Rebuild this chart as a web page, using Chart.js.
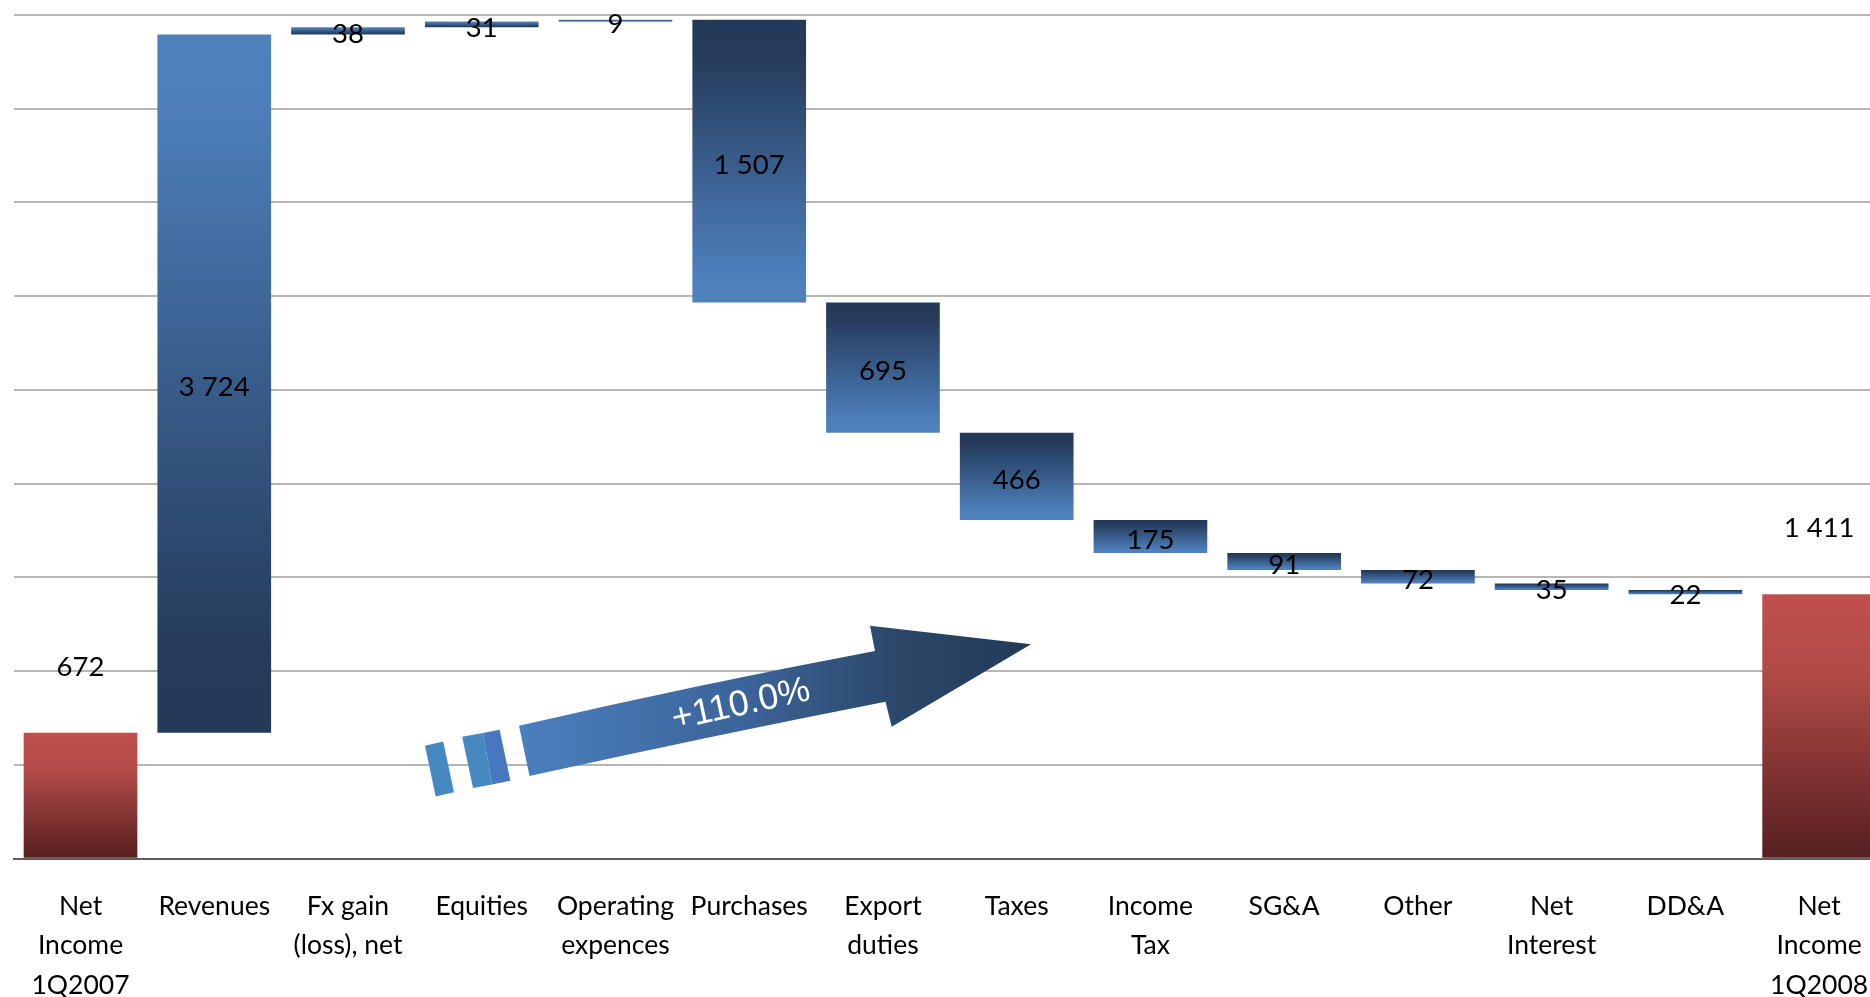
<!DOCTYPE html>
<html><head><meta charset="utf-8">
<script src="https://cdn.jsdelivr.net/npm/chart.js@4.4.1/dist/chart.umd.min.js"></script>
<style>
html,body{margin:0;padding:0;background:#fff;overflow:hidden;width:1870px;height:997px}
#wrap{position:absolute;left:0;top:0;width:1886px;height:997px}
</style>
</head><body>
<div id="wrap"><canvas id="c" width="1886" height="997"></canvas></div>
<script>
// ---- data ----
const categories = [["Net","Income","1Q2007"],"Revenues",["Fx gain","(loss), net"],"Equities",["Operating","expences"],"Purchases",["Export","duties"],"Taxes",["Income","Tax"],"SG&A","Other",["Net","Interest"],"DD&A",["Net","Income","1Q2008"]];
const changes = [672, 3724, 38, 31, 9, -1507, -695, -466, -175, -91, -72, -35, -22, 1411];
const totalFlags = [true,false,false,false,false,false,false,false,false,false,false,false,false,true];
const yMax = 4500;
const yStep = 500;
const growthLabel = "+110.0%";

// ---- build floating ranges [start, end] ----
const ranges = [];
let run = 0;
changes.forEach((v, i) => {
  if (totalFlags[i]) { ranges.push([0, v]); run = v; }
  else { ranges.push([run, run + v]); run += v; }
});
const fmt = n => String(Math.abs(n)).replace(/\B(?=(\d{3})+(?!\d))/g, ' ');

function barFill(ctx) {
  const chart = ctx.chart;
  const ys = chart.scales && chart.scales.y;
  if (ctx.type !== 'data' || !ys || !chart.chartArea) return '#4f81bd';
  const i = ctx.dataIndex;
  const [s, e] = ranges[i];
  const y0 = ys.getPixelForValue(s), y1 = ys.getPixelForValue(e);
  if (Math.abs(y1 - y0) < 0.5) return '#3a5f8e';
  const g = chart.ctx.createLinearGradient(0, y0, 0, y1);
  if (totalFlags[i]) {
    g.addColorStop(0, '#561f20');
    g.addColorStop(0.7, '#b24a47');
    g.addColorStop(1, '#c0504d');
  } else {
    g.addColorStop(0, '#243a59');
    g.addColorStop(0.12, '#253b5b');
    g.addColorStop(0.9, '#4d7fbb');
    g.addColorStop(1, '#4f81bd');
  }
  return g;
}

const decoPlugin = {
  id: 'deco',
  afterDatasetsDraw(chart) {
    const c = chart.ctx;
    const meta = chart.getDatasetMeta(0);
    // value labels
    c.save();
    c.fillStyle = '#000';
    c.font = '27.5px Lato';
    c.textAlign = 'center';
    c.textBaseline = 'middle';
    meta.data.forEach((bar, i) => {
      const top = Math.min(bar.y, bar.base), bot = Math.max(bar.y, bar.base);
      let y = (top + bot) / 2 + 3.5;
      if (totalFlags[i]) y = top - 66;
      c.fillText(fmt(changes[i]), bar.x, y);
    });
    c.restore();

    // growth arrow (decoration)
    c.save();
    const g = c.createLinearGradient(519, 0, 1031, 0);
    g.addColorStop(0, '#4a80be');
    g.addColorStop(0.45, '#3b6398');
    g.addColorStop(0.75, '#2b4668');
    g.addColorStop(1, '#243a58');
    c.fillStyle = g;
    c.beginPath();
    c.moveTo(519, 725.7);
    c.quadraticCurveTo(700, 684, 875, 651);
    c.lineTo(870, 625.7);
    c.lineTo(1031, 644.3);
    c.lineTo(891.7, 726.7);
    c.lineTo(885.5, 701.7);
    c.quadraticCurveTo(710, 736, 529.5, 776);
    c.closePath();
    c.fill();
    // stripes
    c.fillStyle = '#4589c0';
    c.beginPath();
    c.moveTo(425, 745.7); c.lineTo(443.2, 741.5); c.lineTo(454, 792.3); c.lineTo(435.7, 796.5);
    c.closePath(); c.fill();
    c.beginPath();
    c.moveTo(462.2, 736.7); c.lineTo(483, 733); c.lineTo(492, 784.5); c.lineTo(473, 788);
    c.closePath(); c.fill();
    c.fillStyle = '#4677bf';
    c.beginPath();
    c.moveTo(483, 733); c.lineTo(499.6, 729.8); c.lineTo(510.4, 780.7); c.lineTo(492, 784.5);
    c.closePath(); c.fill();
    // text
    c.translate(741, 705);
    c.rotate(-12.3 * Math.PI / 180);
    c.fillStyle = '#ffffff';
    c.font = '36px "Liberation Sans", Arial, sans-serif';
    c.textAlign = 'center';
    c.textBaseline = 'middle';
    c.fillText(growthLabel, 0, 0);
    c.restore();
  }
};

new Chart(document.getElementById('c'), {
  type: 'bar',
  data: {
    labels: categories,
    datasets: [{
      data: ranges,
      backgroundColor: barFill,
      borderWidth: 0,
      borderSkipped: false,
      barPercentage: 0.85,
      categoryPercentage: 1.0
    }]
  },
  options: {
    responsive: false,
    animation: false,
    devicePixelRatio: 1,
    layout: { padding: { left: 13.65, top: 15, right: 0, bottom: 0 } },
    plugins: { legend: { display: false }, tooltip: { enabled: false } },
    scales: {
      x: {
        grid: { display: false, drawTicks: false },
        border: { display: true, color: '#5e5e5e', width: 2 },
        ticks: {
          color: '#000',
          font: { family: 'Lato', size: 26.5, lineHeight: 1.487 },
          padding: 28,
          autoSkip: false,
          maxRotation: 0,
          minRotation: 0
        },
        afterFit(s) { s.height = 138.3; s.paddingLeft = 0; s.paddingRight = 0; }
      },
      y: {
        min: 0, max: yMax,
        ticks: { display: false, stepSize: yStep },
        grid: {
          drawTicks: false,
          lineWidth: 2,
          color: ctx => (ctx.tick && ctx.tick.value === 0) ? '#5e5e5e' : '#b6b6b6'
        },
        border: { display: false },
        afterFit(s) { s.width = 0; s.paddingTop = 0; s.paddingBottom = 0; }
      }
    }
  },
  plugins: [decoPlugin]
});
</script>
</body></html>
